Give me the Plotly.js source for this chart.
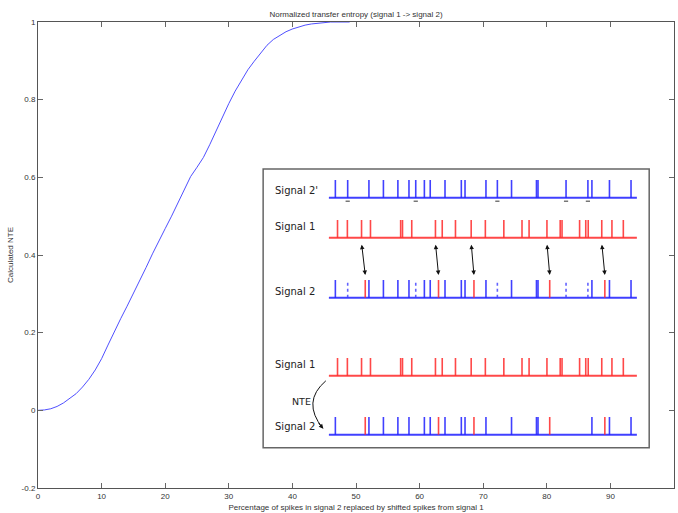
<!DOCTYPE html>
<html><head><meta charset="utf-8">
<script src="https://cdn.plot.ly/plotly-3.0.1.min.js"></script>
<style>html,body{margin:0;padding:0;background:#fff}#c{width:678px;height:513px}</style>
</head><body><div id="c"></div>
<script>
// Main curve: percentage replaced vs NTE
const pct = [0,1,2,3,4,5,6,7,8,9,10,11,12,13,14,15,16,17,18,19,20,21,22,23,24,25,26,27,28,29,30,31,32,33,34,35,36,37,38,39,40,41,42,43,44,45,46,47,48,49];
const nte = [0,0.001,0.004,0.010,0.019,0.030,0.043,0.060,0.080,0.104,0.133,0.168,0.203,0.236,0.268,0.300,0.333,0.368,0.403,0.437,0.468,0.500,0.533,0.567,0.602,0.626,0.651,0.684,0.720,0.755,0.790,0.822,0.849,0.877,0.899,0.921,0.940,0.955,0.966,0.975,0.982,0.988,0.992,0.995,0.997,0.999,1.0,1.0,1.0,1.0];
const yTickVals = [-0.2,0,0.2,0.4,0.6,0.8,1];
const yTickText = ["-0.2","0","0.2","0.4","0.6","0.8","1"];
const xTickVals = [0,10,20,30,40,50,60,70,80,90,100];
const xTickText = ["0","10","20","30","40","50","60","70","80","90","100"];

// Inset spike trains (time units 0..1000)
const signal2Orig = [21,61,130,177,224,260,282,310,329,377,430,442,510,547,593,674,679,770,841,854,911,981];
const signal2Removed = [61,282,547,770,841];
const signal2Kept = [21,130,177,224,260,310,329,377,430,442,510,593,674,679,854,911,981];
const signal1 = [28,60,106,135,233,239,269,346,368,411,462,508,568,627,650,708,751,757,814,834,842,886,919,956];
const shiftedFrom = [106,346,462,708,886];
const shiftedTo = [118,356,471,717,896];
const rowLabels = ["Signal 2'","Signal 1","Signal 2","Signal 1","Signal 2"];
const rowBase = [89.7,75.3,53.8,25.8,4.6];
const rowLabelY = [92.4,79.3,56.0,29.9,7.5];
const spikeH = 6.4;

const BLUE = 'rgba(30,30,255,0.85)';
const RED = 'rgba(255,40,40,0.85)';

function spikes(times, base){
  const x=[],y=[];
  times.forEach(t=>{x.push(t,t,null);y.push(base,base+spikeH,null);});
  return {x,y};
}
function baseline(base,color){
  return {x:[0,1000],y:[base,base],xaxis:'x2',yaxis:'y2',mode:'lines',line:{color,width:2},hoverinfo:'skip',showlegend:false};
}
function spikeTrace(times,base,color,dash){
  const s=spikes(times,base);
  return {x:s.x,y:s.y,xaxis:'x2',yaxis:'y2',mode:'lines',line:{color,width:1.6,dash:dash||'solid'},hoverinfo:'skip',showlegend:false};
}

const traces = [
  {x:pct,y:nte,mode:'lines',line:{color:'rgba(60,60,255,0.9)',width:1},showlegend:false,hoverinfo:'skip'},
  // Row 0: Signal 2'
  baseline(rowBase[0],BLUE), spikeTrace(signal2Orig,rowBase[0],BLUE),
  {x:signal2Removed,y:signal2Removed.map(()=>rowBase[0]-1.3),xaxis:'x2',yaxis:'y2',mode:'markers',
   marker:{symbol:'line-ew-open',size:3,color:'#777',line:{color:'#777',width:1.5}},hoverinfo:'skip',showlegend:false},
  // Row 1: Signal 1
  baseline(rowBase[1],RED), spikeTrace(signal1,rowBase[1],RED),
  // Row 2: Signal 2 with replacements
  baseline(rowBase[2],BLUE), spikeTrace(signal2Kept,rowBase[2],BLUE),
  spikeTrace(signal2Removed,rowBase[2],'rgba(60,60,255,0.8)','dot'),
  spikeTrace(shiftedTo,rowBase[2],RED),
  // Row 3: Signal 1
  baseline(rowBase[3],RED), spikeTrace(signal1,rowBase[3],RED),
  // Row 4: Signal 2 final
  baseline(rowBase[4],BLUE), spikeTrace(signal2Kept,rowBase[4],BLUE),
  spikeTrace(shiftedTo,rowBase[4],RED)
];

const annotations = [];
rowLabels.forEach((lab,i)=>{
  annotations.push({x:-182,y:rowLabelY[i],xref:'x2',yref:'y2',text:lab,showarrow:false,
    xanchor:'left',yanchor:'middle',font:{family:'DejaVu Sans',size:10,color:'#222'}});
});
shiftedFrom.forEach((s,i)=>{
  annotations.push({x:shiftedTo[i],y:62,ax:s,ay:73.4,xref:'x2',yref:'y2',axref:'x2',ayref:'y2',text:'',
    showarrow:true,arrowhead:2,startarrowhead:2,arrowside:'end+start',arrowsize:0.9,startarrowsize:0.9,arrowwidth:1,arrowcolor:'#111'});
});
annotations.push({x:-89,y:16.5,xref:'x2',yref:'y2',text:'NTE',showarrow:false,font:{family:'DejaVu Sans',size:9.5,color:'#222'}});
annotations.push({x:-18,y:6.8,ax:-6,ay:-7,xref:'x2',yref:'y2',text:'',showarrow:true,arrowhead:2,arrowsize:0.9,arrowwidth:1,arrowcolor:'#111'});

const shapes = [
  {type:'rect',xref:'x2 domain',yref:'y2 domain',x0:0,x1:1,y0:0,y1:1,line:{color:'#666',width:1.5},fillcolor:'rgba(0,0,0,0)'},
  {type:'path',xref:'x2',yref:'y2',path:'M -10,24 Q -89,16.5 -20,7',line:{color:'#111',width:1}}
];

const axFont = {family:'Liberation Sans, Arial, sans-serif',size:8,color:'#333'};
const layout = {
  width:678,height:513,
  margin:{l:38,r:4,t:22,b:25},
  paper_bgcolor:'#fff',plot_bgcolor:'#fff',
  title:{text:'Normalized transfer entropy (signal 1 -> signal 2)',font:axFont,x:0.5,xref:'paper',y:1-14/513,yanchor:'middle'},
  xaxis:{range:[0,100],tickvals:xTickVals,ticktext:xTickText,ticks:'inside',ticklen:5,tickcolor:'#666',
    showline:true,linecolor:'#555',linewidth:1,mirror:'allticks',showgrid:false,zeroline:false,tickfont:axFont,
    title:{text:'Percentage of spikes in signal 2 replaced by shifted spikes from signal 1',font:axFont,standoff:4},domain:[0,1]},
  yaxis:{range:[-0.2,1],tickvals:yTickVals,ticktext:yTickText,ticks:'inside',ticklen:5,tickcolor:'#666',
    showline:true,linecolor:'#555',linewidth:1,mirror:'allticks',showgrid:false,zeroline:false,tickfont:axFont,
    title:{text:'Calculated NTE',font:axFont,standoff:6},domain:[0,1]},
  xaxis2:{domain:[0.354,0.961],range:[-213.5,1040],anchor:'y2',visible:false,fixedrange:true},
  yaxis2:{domain:[0.0865,0.6845],range:[0,100],anchor:'x2',visible:false,fixedrange:true},
  annotations,shapes,showlegend:false
};
Plotly.newPlot('c',traces,layout,{staticPlot:true,displayModeBar:false});
</script></body></html>
